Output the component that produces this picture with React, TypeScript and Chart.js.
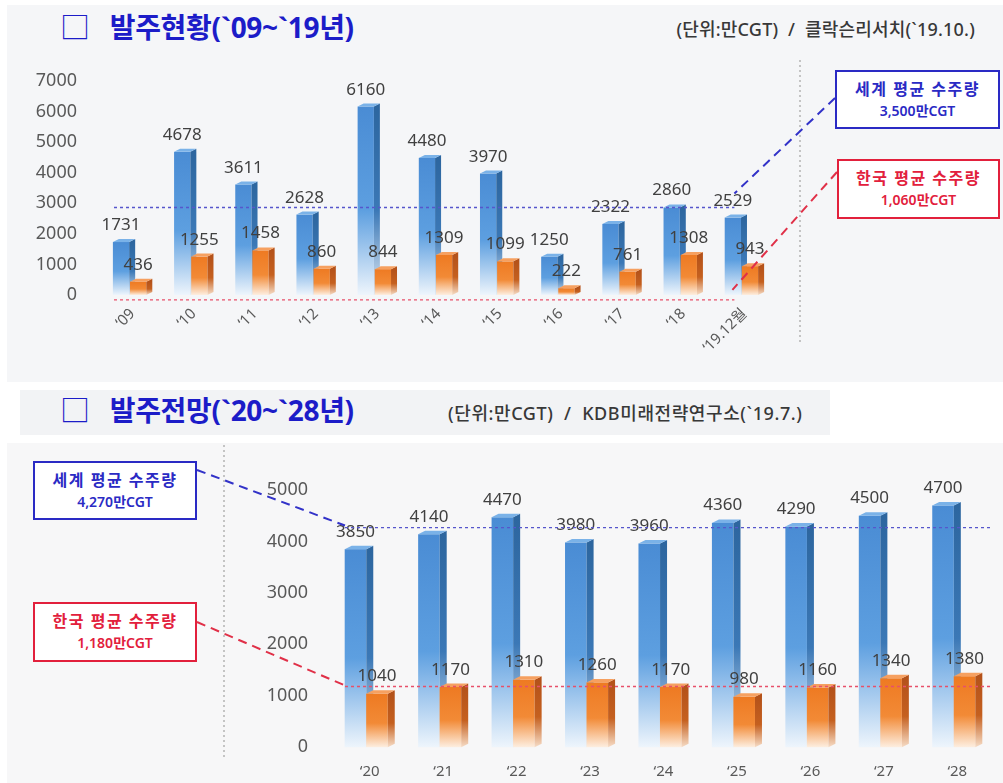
import React, { useEffect, useRef } from "react";
import { Chart, registerables } from "chart.js";

Chart.register(...registerables);

// ---------- data ----------
const topCategories = ["‘09", "‘10", "‘11", "‘12", "‘13", "‘14", "‘15", "‘16", "‘17", "‘18", "‘19.12월"];
const topWorld = [1731, 4678, 3611, 2628, 6160, 4480, 3970, 1250, 2322, 2860, 2529];
const topKorea = [436, 1255, 1458, 860, 844, 1309, 1099, 222, 761, 1308, 943];
const topTicks = [0, 1000, 2000, 3000, 4000, 5000, 6000, 7000];
const topWorldLine = 2860;
const topKoreaLine = -160;

const bottomCategories = ["‘20", "‘21", "‘22", "‘23", "‘24", "‘25", "‘26", "‘27", "‘28"];
const bottomWorld = [3850, 4140, 4470, 3980, 3960, 4360, 4290, 4500, 4700];
const bottomKorea = [1040, 1170, 1310, 1260, 1170, 980, 1160, 1340, 1380];
const bottomTicks = [0, 1000, 2000, 3000, 4000, 5000];
const bottomWorldLine = 4270;
const bottomKoreaLine = 1180;

const topTitle = "발주현황(`09~`19년)";
const topSource = "(단위:만CGT)  /  클락슨리서치(`19.10.)";
const bottomTitle = "발주전망(`20~`28년)";
const bottomSource = "(단위:만CGT)  /  KDB미래전략연구소(`19.7.)";
const worldLabel = "세계 평균 수주량";
const koreaLabel = "한국 평균 수주량";
const topWorldAvgText = "3,500만CGT";
const topKoreaAvgText = "1,060만CGT";
const bottomWorldAvgText = "4,270만CGT";
const bottomKoreaAvgText = "1,180만CGT";

const FONT = "'Noto Sans', 'Noto Sans CJK KR', sans-serif";

const BLUE = {
  front: ["#4a8cd4", "#5d9fe0", "#eef5fc"],
  side: ["#2d669f", "#3b78b6", "#dde9f5"],
  top: "#7ab2e8",
};
const ORANGE = {
  front: ["#ee7a22", "#f28a36", "#fdeee0"],
  side: ["#b4521a", "#c5601f", "#f6dcc6"],
  top: "#f6a060",
};

function drawBar(ctx: CanvasRenderingContext2D, el: any, d: number, c: any) {
  const { x, y, base, width } = el.getProps(["x", "y", "base", "width"], true);
  const fw = width - d;
  const x0 = x - width / 2;
  const dy = d * 0.5;
  const g = ctx.createLinearGradient(0, y, 0, base);
  g.addColorStop(0, c.front[0]);
  g.addColorStop(0.55, c.front[1]);
  g.addColorStop(1, c.front[2]);
  ctx.fillStyle = g;
  ctx.fillRect(x0, y, fw, base - y);
  const gs = ctx.createLinearGradient(0, y, 0, base);
  gs.addColorStop(0, c.side[0]);
  gs.addColorStop(0.55, c.side[1]);
  gs.addColorStop(1, c.side[2]);
  ctx.fillStyle = gs;
  ctx.beginPath();
  ctx.moveTo(x0 + fw, y);
  ctx.lineTo(x0 + fw + d, y - dy);
  ctx.lineTo(x0 + fw + d, base - dy);
  ctx.lineTo(x0 + fw, base);
  ctx.closePath();
  ctx.fill();
  ctx.fillStyle = c.top;
  ctx.beginPath();
  ctx.moveTo(x0, y);
  ctx.lineTo(x0 + d, y - dy);
  ctx.lineTo(x0 + fw + d, y - dy);
  ctx.lineTo(x0 + fw, y);
  ctx.closePath();
  ctx.fill();
}

function barsPlugin(depth: number, fontSize: number) {
  return {
    id: "bars3d",
    afterDatasetsDraw(chart: any) {
      const ctx = chart.ctx as CanvasRenderingContext2D;
      const m0 = chart.getDatasetMeta(0);
      const m1 = chart.getDatasetMeta(1);
      ctx.save();
      for (let i = 0; i < m0.data.length; i++) {
        drawBar(ctx, m0.data[i], depth, BLUE);
        drawBar(ctx, m1.data[i], depth, ORANGE);
      }
      ctx.font = `${fontSize}px ${FONT}`;
      ctx.fillStyle = "#404040";
      ctx.textAlign = "center";
      ctx.textBaseline = "alphabetic";
      [m0, m1].forEach((m: any, di: number) => {
        const data = chart.data.datasets[di].data;
        m.data.forEach((el: any, i: number) => {
          const { x, y } = el.getProps(["x", "y"], true);
          ctx.fillText(String(data[i]), x - depth / 2, y - depth * 0.5 - 9);
        });
      });
      ctx.restore();
    },
  };
}

function dashedLine(ctx: CanvasRenderingContext2D, x1: number, y1: number, x2: number, y2: number, color: string, width: number, dash: number[]) {
  ctx.save();
  ctx.strokeStyle = color;
  ctx.lineWidth = width;
  ctx.setLineDash(dash);
  ctx.beginPath();
  ctx.moveTo(x1, y1);
  ctx.lineTo(x2, y2);
  ctx.stroke();
  ctx.restore();
}

function baseOptions(yMax: number, ticks: number[], yWidth: number, yPad: number, xHeight: number, padding: any, xRot: number, xFont: number, xPad: number) {
  return {
    responsive: false,
    animation: false as const,
    devicePixelRatio: 1,
    layout: { padding },
    plugins: { legend: { display: false }, tooltip: { enabled: false } },
    scales: {
      x: {
        grid: { display: false, drawTicks: false },
        border: { display: false },
        ticks: { minRotation: xRot, maxRotation: xRot, color: "#595959", font: { size: xFont, family: FONT }, padding: xPad, autoSkip: false },
        afterFit: (s: any) => { s.height = xHeight; },
      },
      y: {
        min: 0,
        max: yMax,
        grid: { display: false, drawTicks: false },
        border: { display: false },
        afterBuildTicks: (s: any) => { s.ticks = ticks.map((v) => ({ value: v })); },
        ticks: { color: "#595959", font: { size: 18, family: FONT }, padding: yPad, callback: (v: any) => String(v) },
        afterFit: (s: any) => { s.width = yWidth; },
      },
    },
  };
}

function TopChart() {
  const ref = useRef<HTMLCanvasElement>(null);
  useEffect(() => {
    const annot = {
      id: "annotTop",
      afterDraw(chart: any) {
        const ctx = chart.ctx as CanvasRenderingContext2D;
        const { x, y } = chart.scales;
        const area = chart.chartArea;
        const xs = area.left + 12;
        const xe = x.getPixelForValue(topCategories.length - 1) - 10;
        const wy = y.getPixelForValue(topWorldLine);
        const ky = y.getPixelForValue(topKoreaLine);
        dashedLine(ctx, 800, 15, 800, 300, "#c4c4c4", 2, [2, 3]);
        dashedLine(ctx, xs, wy, xe, wy, "#5656cc", 1.3, [3, 3]);
        dashedLine(ctx, xs, ky, xe, ky, "#e8506a", 1.3, [3, 3]);
        dashedLine(ctx, 835, 53, xe, wy - 14, "#3232c8", 2, [9, 6]);
        dashedLine(ctx, 837, 127, xe - 2, ky - 10, "#e03048", 2, [9, 6]);
      },
    };
    const chart = new Chart(ref.current!, {
      type: "bar",
      data: {
        labels: topCategories,
        datasets: [
          { label: "세계", data: topWorld, backgroundColor: "rgba(0,0,0,0)", borderWidth: 0, categoryPercentage: 0.56, barPercentage: 1.3 },
          { label: "한국", data: topKorea, backgroundColor: "rgba(0,0,0,0)", borderWidth: 0, categoryPercentage: 0.56, barPercentage: 1.3 },
        ],
      },
      options: baseOptions(7000, topTicks, 102, 25, 85, { left: 0, top: 32, right: 228, bottom: 0 }, 45, 15, 10) as any,
      plugins: [barsPlugin(6, 17), annot],
    });
    return () => chart.destroy();
  }, []);
  return <canvas ref={ref} width={1003} height={335} style={{ position: "absolute", left: 0, top: 45, width: 1003, height: 335 }} />;
}

function BottomChart() {
  const ref = useRef<HTMLCanvasElement>(null);
  useEffect(() => {
    const annot = {
      id: "annotBottom",
      afterDraw(chart: any) {
        const ctx = chart.ctx as CanvasRenderingContext2D;
        const { y } = chart.scales;
        const area = chart.chartArea;
        const xs = area.left + 12;
        const xe = area.right - 4;
        const wy = y.getPixelForValue(bottomWorldLine);
        const ky = y.getPixelForValue(bottomKoreaLine);
        dashedLine(ctx, 224, 5, 224, 320, "#c4c4c4", 2, [2, 3]);
        dashedLine(ctx, xs, wy, xe, wy, "#5656cc", 1.3, [3, 3]);
        dashedLine(ctx, xs, ky, xe, ky, "#e8506a", 1.3, [3, 3]);
        dashedLine(ctx, 197, 30, xs, wy - 2, "#3232c8", 2, [9, 6]);
        dashedLine(ctx, 197, 182, xs, ky - 1, "#e03048", 2, [9, 6]);
      },
    };
    const chart = new Chart(ref.current!, {
      type: "bar",
      data: {
        labels: bottomCategories,
        datasets: [
          { label: "세계", data: bottomWorld, backgroundColor: "rgba(0,0,0,0)", borderWidth: 0, categoryPercentage: 0.585, barPercentage: 1.33 },
          { label: "한국", data: bottomKorea, backgroundColor: "rgba(0,0,0,0)", borderWidth: 0, categoryPercentage: 0.585, barPercentage: 1.33 },
        ],
      },
      options: baseOptions(5000, bottomTicks, 333, 25, 30, { left: 0, top: 50, right: 9, bottom: 0 }, 0, 15, 16) as any,
      plugins: [barsPlugin(7, 17), annot],
    });
    return () => chart.destroy();
  }, []);
  return <canvas ref={ref} width={1003} height={343} style={{ position: "absolute", left: 0, top: 440, width: 1003, height: 343 }} />;
}

function Box(props: { left: number; top: number; w: number; h: number; color: string; line1: string; line2: string }) {
  const { left, top, w, h, color, line1, line2 } = props;
  return (
    <div
      style={{
        position: "absolute", left, top, width: w, height: h, boxSizing: "border-box",
        border: `2px solid ${color}`, background: "#ffffff", display: "flex", flexDirection: "column",
        alignItems: "center", justifyContent: "center", fontFamily: FONT, color, lineHeight: "22px",
      }}
    >
      <div style={{ fontSize: 16, fontWeight: 700, letterSpacing: 1.5, whiteSpace: "nowrap" }}>{line1}</div>
      <div style={{ fontSize: 14, fontWeight: 600, whiteSpace: "nowrap" }}>{line2}</div>
    </div>
  );
}

function Title(props: { left: number; top: number; text: string }) {
  return (
    <div style={{ position: "absolute", left: props.left, top: props.top, fontFamily: FONT, color: "#1c1cc8", fontWeight: 700, fontSize: 28, lineHeight: "36px", whiteSpace: "nowrap", letterSpacing: -0.3 }}>
      <span style={{ fontWeight: 400, fontSize: 30, marginRight: 20 }}>□</span>
      {props.text}
    </div>
  );
}

export default function App() {
  const BLUE_BOX = "#2a2ac4";
  const RED_BOX = "#e2203c";
  return (
    <div style={{ position: "absolute", left: 0, top: 0, width: 1003, height: 783, background: "#ffffff", overflow: "hidden" }}>
      <div style={{ position: "absolute", left: 7, top: 5, width: 996, height: 377, background: "#f5f6f8" }} />
      <div style={{ position: "absolute", left: 20, top: 390, width: 810, height: 45, background: "#f2f3f5" }} />
      <div style={{ position: "absolute", left: 7, top: 443, width: 996, height: 340, background: "#f7f7f8" }} />
      <Title left={60} top={9} text={topTitle} />
      <div style={{ position: "absolute", right: 28, top: 15, fontFamily: FONT, fontSize: 18, color: "#383838", whiteSpace: "pre", fontWeight: 500, letterSpacing: 0.2 }}>{topSource}</div>
      <Title left={60} top={392} text={bottomTitle} />
      <div style={{ position: "absolute", left: 448, top: 399, fontFamily: FONT, fontSize: 18, color: "#383838", whiteSpace: "pre", fontWeight: 500, letterSpacing: 0.6 }}>{bottomSource}</div>
      <TopChart />
      <BottomChart />
      <Box left={835} top={70} w={165} h={59} color={BLUE_BOX} line1={worldLabel} line2={topWorldAvgText} />
      <Box left={837} top={159} w={163} h={60} color={RED_BOX} line1={koreaLabel} line2={topKoreaAvgText} />
      <Box left={33} top={461} w={164} h={59} color={BLUE_BOX} line1={worldLabel} line2={bottomWorldAvgText} />
      <Box left={33} top={602} w={164} h={60} color={RED_BOX} line1={koreaLabel} line2={bottomKoreaAvgText} />
    </div>
  );
}
